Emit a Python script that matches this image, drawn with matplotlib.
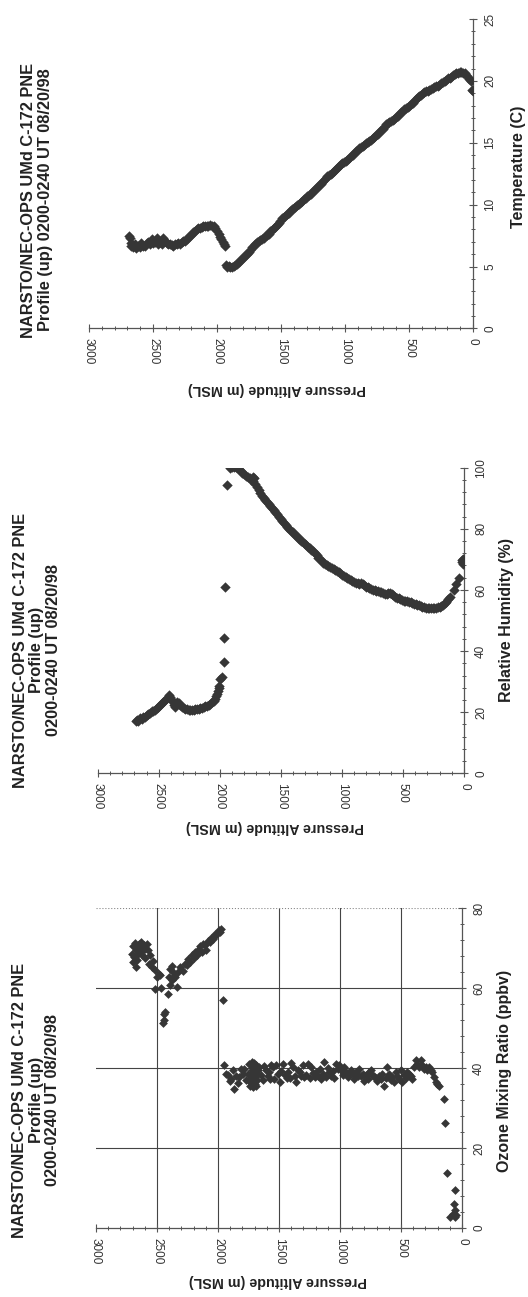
# profile_plots.py
# Three aircraft profiles (ozone, RH, temperature) vs pressure altitude,
# laid out sideways on one tall page the way the scanned report has them.

import matplotlib
matplotlib.use("Agg")
import matplotlib.pyplot as plt
from matplotlib.ticker import MultipleLocator

plt.rcParams['font.family'] = ['Liberation Sans', 'DejaVu Sans']

# --- ozone (alt m, ppbv) ---
oz_alt = [2705, 2700, 2695, 2689, 2680, 2676, 2676, 2665, 2662, 2655, 2649, 2640, 2635, 2630,
          2622, 2615, 2608, 2600, 2595, 2585, 2575, 2568, 2554, 2541, 2530, 2514, 2500, 2486,
          2472, 2514, 2465, 2411, 2432, 2446, 2454, 2440,
          2392, 2378, 2405, 2351, 2365, 2338, 2324, 2311, 2290, 2270, 2255, 2243, 2230, 2216,
          2200, 2189, 2175, 2162, 2150, 2135, 2120, 2108, 2095, 2080, 2067, 2055, 2040, 2025,
          2013, 1995, 1986, 1973, 2380, 2360, 2395,
          1959,
          1950, 1935, 1919, 1905, 1892, 1880, 1865, 1850, 1838, 1824, 1811, 1797, 1784, 1770,
          1757, 1745,
          1740, 1735, 1730, 1728, 1725, 1722, 1720, 1715, 1712, 1710, 1708, 1705, 1702, 1698,
          1695, 1692, 1690, 1688, 1685, 1682, 1680, 1676,
          1662, 1650, 1635, 1620, 1603, 1590, 1581, 1576, 1562, 1549, 1540, 1521, 1508, 1494,
          1480, 1467, 1450, 1438, 1426, 1410, 1400, 1386, 1372, 1359, 1345, 1330, 1318, 1305,
          1291, 1278, 1263, 1250, 1236, 1222, 1209, 1195, 1182, 1168, 1155, 1141, 1128, 1114,
          1100, 1087, 1073, 1060, 1046, 1032, 1018, 1005, 992, 978, 965, 951, 938, 924, 910,
          897, 883, 870, 856, 842, 829, 815, 801, 788, 774, 760, 747, 733, 720, 706, 693, 679,
          665, 652, 638, 625, 611, 598, 585, 571, 557, 543, 530, 516, 503, 489, 475, 462, 448,
          435, 421, 407, 394, 380, 367, 353, 340, 326, 313, 299, 285, 272, 258, 245, 231, 217,
          204, 190, 149, 136, 122, 54, 68, 95, 54, 60, 75, 48]
oz_val = [68.5, 66.5, 70.5, 67.8, 71.2, 69.4, 65.3, 70.2, 66.9, 68.5, 71.1, 69.8, 69.0, 71.6,
          68.2, 70.5, 70.7, 67.5, 69.8, 71.0, 69.5, 66.1, 68.2, 65.3, 66.8, 64.4, 62.8, 63.6,
          63.3, 59.8, 60.0, 58.6, 54.0, 51.9, 51.3, 53.5,
          60.7, 61.9, 62.8, 62.8, 64.0, 60.3, 64.0, 65.3, 64.2, 66.1, 65.8, 67.3, 66.5, 68.2,
          67.5, 69.0, 68.3, 69.4, 70.5, 69.0, 71.0, 70.7, 69.4, 71.8, 71.5, 72.5, 72.3, 73.5,
          73.2, 74.5, 74.0, 74.7, 65.5, 63.0, 64.8,
          56.9,
          40.7, 38.5, 38.2, 36.8, 37.3, 39.6, 34.8, 38.0, 36.3, 37.8, 39.8, 38.6, 39.8, 36.9,
          38.5, 40.9,
          35.5, 36.5, 37.5, 38.5, 39.5, 40.5, 41.5, 35.2, 36.4, 37.6, 38.8, 40.0, 41.2, 36.0,
          37.2, 38.4, 39.6, 40.8, 35.6, 37.0, 38.2, 39.4,
          40.2, 38.3, 36.9, 40.5, 39.4, 38.0, 39.0, 37.3, 40.7, 40.2, 37.3, 40.7, 38.6, 36.4,
          39.2, 41.1, 38.3, 37.6, 39.0, 37.5, 41.3, 40.2, 38.0, 36.4, 39.5, 38.9, 38.1, 40.7,
          37.7, 38.3, 41.1, 37.4, 40.2, 38.7, 37.7, 39.0, 38.0, 39.8, 37.2, 38.4, 41.5, 37.7,
          40.0, 38.9, 38.1, 39.3, 37.6, 41.1, 39.8, 40.8, 39.4, 38.2, 40.3, 39.0, 37.8, 38.6, 39.4,
          38.4, 37.3, 39.0, 38.1, 39.8, 37.9, 38.6, 36.8, 38.2, 37.3, 38.9, 39.4, 38.0, 38.1, 37.5, 36.8, 38.1,
          37.2, 38.6, 35.6, 37.4, 40.2, 38.5, 37.0, 37.7, 36.4, 39.0, 38.0, 37.2, 39.4, 36.4, 38.2, 37.6, 39.0,
          38.4, 38.1, 37.3, 40.3, 41.9, 41.0, 40.3, 41.9, 40.8, 39.7, 40.2, 39.6, 40.2, 39.4, 39.0, 37.8, 36.4,
          35.9, 35.6, 32.2, 26.3, 13.7, 9.5, 6.1, 2.8, 2.8, 4.5, 3.6, 3.2]

# --- relative humidity (alt m, %) ---
rh_alt = [2690, 2680, 2668, 2655, 2640, 2625, 2612, 2598, 2585, 2571, 2558, 2545, 2530, 2518,
          2505, 2489, 2476, 2462, 2448, 2435, 2420, 2408, 2396, 2385, 2375, 2366, 2356, 2347,
          2336, 2325, 2310, 2297, 2284, 2270, 2255, 2240, 2228, 2215, 2200, 2185, 2172, 2160,
          2147, 2133, 2120, 2105, 2092, 2080, 2065, 2051, 2040, 2032, 2024, 2017, 2010, 2004,
          1997, 1985,
          1969, 1964, 1956, 1942,
          1915, 1900, 1885, 1870, 1858, 1845, 1830, 1815, 1800, 1785, 1770, 1755, 1742, 1732,
          1725, 1716, 1708, 1695, 1682, 1668, 1655, 1642, 1628, 1614, 1600, 1586, 1572, 1558,
          1544, 1530, 1516, 1502, 1488, 1474, 1460, 1446, 1432, 1418, 1404, 1390, 1376, 1362,
          1348, 1334, 1320, 1306, 1292, 1278, 1264, 1250, 1236, 1222, 1208, 1194, 1180, 1166,
          1152, 1138, 1124, 1110, 1096, 1082, 1068, 1054, 1040, 1026, 1012, 998, 984, 970, 956,
          942, 928, 914, 900, 886, 872, 858, 844, 830, 816, 802, 788, 774, 760, 746, 732, 718,
          704, 690, 676, 662, 648, 634, 620, 606, 592, 578, 564, 550, 536, 522, 508, 494, 480,
          466, 452, 438, 424, 410, 396, 382, 368, 354, 340, 326, 312, 298, 284, 270, 256, 242,
          228, 214, 200, 186, 172, 158, 144, 130, 118, 82, 62, 41, 20, 15, 10, 12]
rh_val = [17.0, 17.4, 17.2, 18.0, 17.8, 18.3, 18.5, 19.0, 19.3, 19.6, 20.3, 20.5, 20.7, 21.4,
          21.7, 22.4, 23.0, 23.3, 24.0, 24.8, 25.6, 25.0, 24.3, 23.2, 22.3, 21.8, 22.6, 23.2,
          22.9, 22.4, 21.8, 21.4, 21.2, 21.0, 20.8, 20.6, 20.7, 20.7, 20.9, 21.0, 21.1, 21.4,
          21.3, 21.7, 21.9, 22.1, 22.3, 22.8, 23.2, 23.6, 24.3, 25.2, 25.8, 26.8, 27.8, 28.6,
          31.0, 31.6,
          36.5, 44.2, 61.0, 94.3,
          100.0, 100.3, 100.2, 100.3, 100.0, 99.5, 98.9, 98.4, 97.9, 97.4, 96.9, 96.5, 96.0, 96.9,
          95.6, 96.6, 94.8, 93.8, 92.8, 91.8, 90.9, 90.1, 89.4, 88.7, 88.0, 87.4, 86.7, 86.0,
          85.4, 84.7, 84.0, 83.3, 82.6, 81.9, 81.2, 80.6, 80.0, 79.4, 78.9, 78.3, 77.8, 77.2,
          76.7, 76.1, 75.6, 75.1, 74.6, 74.1, 73.6, 73.1, 72.6, 72.0, 71.3, 70.6, 70.0, 69.4,
          68.9, 68.6, 68.3, 67.9, 67.5, 67.2, 66.8, 66.5, 66.2, 65.8, 65.4, 65.0, 64.6, 64.3, 64.0,
          63.7, 63.4, 63.0, 62.7, 62.4, 62.2, 62.1, 62.3, 61.9, 61.5, 61.1, 60.8, 60.5, 60.3, 60.1, 59.9, 59.7,
          59.5, 59.3, 59.2, 59.0, 58.8, 58.7, 58.9, 59.1, 58.7, 58.2, 57.8, 57.5, 57.2, 56.9, 56.7, 56.5, 56.4,
          56.3, 56.2, 56.0, 55.7, 55.5, 55.3, 55.2, 55.0, 54.7, 54.5, 54.3, 54.2, 54.0, 54.0, 54.1, 54.0, 54.1,
          54.2, 54.3, 54.5, 54.8, 55.2, 55.6, 56.2, 57.0, 57.8, 60.0, 62.0, 63.8, 69.0, 69.8, 68.5, 70.2]

# --- temperature (alt m, C) ---
t_alt = [2690, 2681, 2675, 2668, 2655, 2642, 2630, 2616, 2603, 2590, 2577, 2564, 2550, 2537,
         2524, 2510, 2498, 2485, 2472, 2459, 2446, 2433, 2420, 2407, 2394, 2381, 2368, 2354,
         2341, 2328, 2315, 2302, 2289, 2276, 2263, 2250, 2237, 2224, 2210, 2197, 2184, 2171,
         2158, 2145, 2132, 2119, 2106, 2093, 2080, 2067, 2054, 2040, 2027, 2014, 2001, 1988,
         1975, 1966, 1957, 1946, 1936,
         1930, 1923, 1910, 1897, 1883, 1870, 1857, 1844, 1831, 1818, 1805, 1792, 1779, 1766,
         1753, 1740, 1727, 1714, 1700, 1687, 1674, 1661, 1648, 1635, 1622, 1609, 1596, 1583,
         1570, 1557, 1543, 1530, 1517, 1504, 1491, 1478, 1465, 1452, 1439, 1426, 1413, 1400,
         1387, 1373, 1360, 1347, 1334, 1321, 1308, 1295, 1282, 1269, 1256, 1243, 1230, 1216,
         1203, 1190, 1177, 1164, 1151, 1138, 1125, 1112, 1099, 1085, 1072, 1059, 1046, 1033,
         1020, 1007, 994, 981, 968, 955, 941, 928, 915, 902, 889, 876, 863, 850, 837, 824, 811,
         798, 785, 772, 759, 746, 733, 720, 707, 693, 680, 667, 654, 641, 628, 615, 602, 589,
         576, 562, 549, 536, 523, 510, 497, 484, 471, 458, 445, 432, 419, 406, 392, 379, 366,
         353, 340, 327, 314, 301, 288, 275, 262, 248, 235, 222, 209, 196, 183, 170, 157, 144,
         131, 118, 105, 92, 79, 65, 52, 39, 28, 18, 3, 5]
t_val = [7.5, 7.3, 6.9, 6.7, 6.6, 6.8, 6.5, 6.7, 6.6, 6.9, 6.7, 6.7, 6.9, 7.0,
         6.85, 7.2, 6.9, 7.0, 7.3, 6.85, 7.0, 6.8, 7.3, 7.1, 6.9, 6.85, 6.8, 6.75,
         6.7, 6.8, 6.8, 6.9, 6.85, 7.0, 7.05, 7.1, 7.25, 7.4, 7.5, 7.65, 7.8, 7.9,
         8.0, 8.1, 8.15, 8.2, 8.25, 8.3, 8.3, 8.3, 8.35, 8.3, 8.3, 8.1, 7.9, 7.65,
         7.4, 7.2, 7.0, 6.85, 6.7,
         5.1, 5.0, 5.05, 5.0, 5.0, 5.05, 5.1, 5.2, 5.35, 5.5, 5.6, 5.75, 5.9, 6.05,
         6.2, 6.35, 6.55, 6.7, 6.85, 6.95, 7.1, 7.15, 7.26, 7.35, 7.45, 7.55, 7.66, 7.85,
         7.95, 8.1, 8.2, 8.35, 8.5, 8.7, 8.9, 9.0, 9.1, 9.25, 9.35, 9.5, 9.65, 9.75,
         9.85, 9.95, 10.05, 10.2, 10.3, 10.45, 10.55, 10.7, 10.8, 10.9, 11.05, 11.2, 11.3, 11.45,
         11.6, 11.7, 11.85, 12.0, 12.15, 12.3, 12.4, 12.5, 12.6, 12.75, 12.9, 13.0, 13.15, 13.25,
         13.35, 13.45, 13.5, 13.6, 13.75, 13.9, 14.0, 14.15, 14.3, 14.4, 14.55, 14.65, 14.75, 14.85, 14.95, 15.05, 15.15,
         15.25, 15.4, 15.5, 15.6, 15.7, 15.85, 16.0, 16.15, 16.3, 16.5, 16.6, 16.7, 16.75, 16.85, 16.9, 17.05, 17.2,
         17.35, 17.45, 17.6, 17.7, 17.8, 17.9, 18.0, 18.1, 18.25, 18.4, 18.55, 18.7, 18.8, 18.9, 19.05, 19.1, 19.15,
         19.2, 19.3, 19.35, 19.4, 19.5, 19.55, 19.6, 19.7, 19.8, 19.9, 20.0, 20.1, 20.2, 20.25, 20.3, 20.45, 20.55,
         20.6, 20.65, 20.7, 20.7, 20.65, 20.6, 20.45, 20.3, 20.15, 20.0, 19.2, 19.3]

TITLE_3 = "NARSTO/NEC-OPS UMd C-172 PNE\nProfile (up)\n0200-0240 UT 08/20/98"
TITLE_2 = "NARSTO/NEC-OPS UMd C-172 PNE\nProfile (up) 0200-0240 UT 08/20/98"
ALT_LABEL = "Pressure Altitude (m MSL)"

W, H = 528, 1297
INK = '#363636'
AXC = '#555555'
TXT = '#222222'


def fx(x):
    return x / W


def fy(y):
    return 1 - y / H


def profile_axes(fig, left, top, right, bottom, vmax, vmajor, vminor):
    """Sideways profile: altitude runs right-to-left along the bottom,
    the measured value runs upward on the right."""
    ax = fig.add_axes([fx(left), fy(bottom), (right - left) / W, (bottom - top) / H])
    ax.set_xlim(3000, 0)
    ax.set_ylim(0, vmax)
    for s in ['top', 'left']:
        ax.spines[s].set_visible(False)
    for s in ['bottom', 'right']:
        ax.spines[s].set_color(AXC)
        ax.spines[s].set_linewidth(0.9)
    ax.yaxis.tick_right()
    ax.xaxis.set_major_locator(MultipleLocator(500))
    ax.xaxis.set_minor_locator(MultipleLocator(100))
    ax.yaxis.set_major_locator(MultipleLocator(vmajor))
    ax.yaxis.set_minor_locator(MultipleLocator(vminor))
    ax.tick_params(which='major', direction='inout', length=6, width=0.8, color=AXC,
                   labelsize=8.5, labelcolor='#333333')
    ax.tick_params(which='minor', direction='inout', length=3.5, width=0.7, color=AXC)
    ax.tick_params(axis='x', labelrotation=270, pad=4)
    ax.tick_params(axis='y', labelrotation=90, pad=5)
    for lab in ax.get_yticklabels():
        lab.set_verticalalignment('center')
    ax.set_facecolor('none')
    return ax


def titles(title, tx, ty, vlabel, vx, vy, px, py):
    fig.text(fx(tx), fy(ty), title, rotation=90, ha='center', va='center',
             fontsize=11.8, fontweight='bold', linespacing=1.12, color=TXT)
    fig.text(fx(vx), fy(vy), vlabel, rotation=90, ha='center', va='center',
             fontsize=11.5, fontweight='bold', color=TXT)
    fig.text(fx(px), fy(py), ALT_LABEL, rotation=180, ha='center', va='center',
             fontsize=10.3, fontweight='bold', color=TXT)


fig = plt.figure(figsize=(W / 100, H / 100), dpi=100)
fig.patch.set_facecolor('white')

# top: temperature
ax_t = profile_axes(fig, 89, 19, 473, 328.5, 25, 5, 1)
ax_t.scatter(t_alt, t_val, marker='D', s=28, color=INK, linewidths=0, zorder=3)
titles(TITLE_2, 37, 200, "Temperature (C)", 519, 167, 277, 389)

# middle: relative humidity
ax_rh = profile_axes(fig, 97.7, 467.7, 464, 773.3, 100, 20, 4)
ax_rh.scatter(rh_alt, rh_val, marker='D', s=28, color=INK, linewidths=0, zorder=3)
titles(TITLE_3, 37, 650, "Relative Humidity (%)", 506, 620, 275, 827)

# bottom: ozone, with the grid
ax_oz = profile_axes(fig, 96, 908, 462, 1228, 80, 20, 4)
for a in [500, 1000, 1500, 2000, 2500]:
    ax_oz.axvline(a, color='#444444', linewidth=0.8, zorder=1)
for v in [20, 40, 60]:
    ax_oz.axhline(v, color='#444444', linewidth=0.8, zorder=1)
ax_oz.axhline(80, color='#888888', linewidth=0.8, linestyle=':', zorder=1)
ax_oz.scatter(oz_alt, oz_val, marker='D', s=20, color=INK, linewidths=0, zorder=3)
titles(TITLE_3, 36, 1100, "Ozone Mixing Ratio (ppbv)", 505, 1071, 278, 1281)

fig.savefig("out.png", dpi=100)
